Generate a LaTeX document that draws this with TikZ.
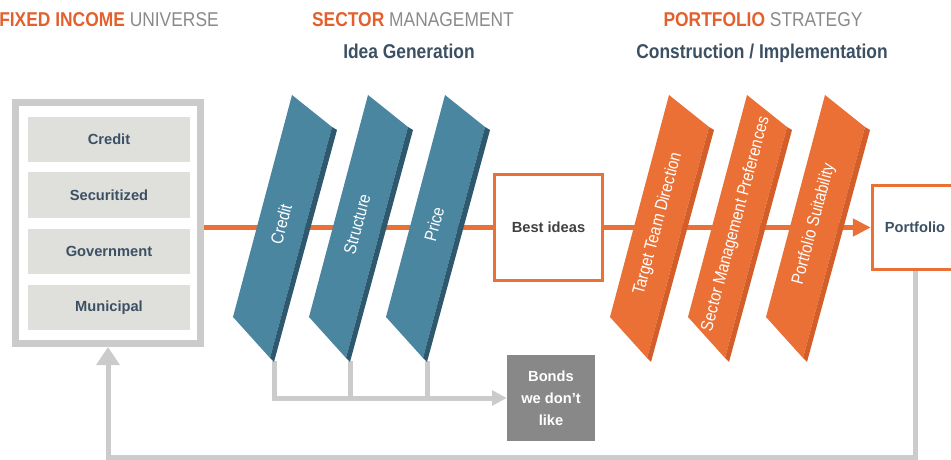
\documentclass[tikz,border=0pt]{standalone}
\usepackage{fontspec}
\setmainfont{Liberation Sans}
\newfontfamily\narrowfont[FakeStretch=0.87]{Liberation Sans}
\usetikzlibrary{arrows.meta}

\definecolor{fiOrange}{HTML}{EB7035}
\definecolor{fiOrangeDk}{HTML}{D35E29}
\definecolor{fiTitleOr}{HTML}{E3602D}
\definecolor{fiBlue}{HTML}{4B86A1}
\definecolor{fiBlueDk}{HTML}{2E586D}
\definecolor{fiSlate}{HTML}{3C5064}
\definecolor{fiInk}{HTML}{404040}
\definecolor{fiGrey}{HTML}{CBCBCB}
\definecolor{fiBoxGrey}{HTML}{DFE0DC}
\definecolor{fiDarkGrey}{HTML}{888888}
\definecolor{fiTitleGrey}{HTML}{8A8A8A}

\tikzset{
  titletext/.style={inner sep=0, anchor=base, font=\narrowfont\fontsize{15}{18}\selectfont},
  subtitle/.style={titletext, text=fiSlate, font=\narrowfont\bfseries\fontsize{15}{18}\selectfont},
  sectorbox/.style={fill=fiBoxGrey, inner sep=0, minimum width=121.5pt, minimum height=33.75pt,
    text=fiSlate, font=\bfseries\fontsize{11}{13}\selectfont},
  orangebox/.style={draw=fiOrange, line width=2.5pt, fill=white, inner sep=0,
    font=\bfseries\fontsize{11}{13}\selectfont},
  bladetext/.style={rotate=75, text=white, inner sep=0, font=\narrowfont\fontsize{13}{15}\selectfont},
  mainline/.style={draw=fiOrange, line width=3.75pt},
  greyline/.style={draw=fiGrey, line width=3.75pt},
}

\begin{document}
\begin{tikzpicture}[x=0.75pt,y=0.75pt,yscale=-1,xscale=1]
\useasboundingbox (0,0) rectangle (951,460);
\clip (0,0) rectangle (951,460);

% Text Node
\node[titletext, anchor=base west] (unititle) at (-1,27) {\textcolor{fiTitleOr}{\bfseries FIXED INCOME} \textcolor{fiTitleGrey}{UNIVERSE}};
% Text Node
\node[titletext] (sectitle) at (413,27) {\textcolor{fiTitleOr}{\bfseries SECTOR} \textcolor{fiTitleGrey}{MANAGEMENT}};
% Text Node
\node[subtitle] (ideagen) at (409,59) {Idea Generation};
% Text Node
\node[titletext] (porttitle) at (763,27) {\textcolor{fiTitleOr}{\bfseries PORTFOLIO} \textcolor{fiTitleGrey}{STRATEGY}};
% Text Node
\node[subtitle] (construct) at (762,59) {Construction / Implementation};

%Shape: Rectangle [id:univ] 
\node[draw=fiGrey, line width=5.25pt, minimum width=138.75pt, minimum height=180.75pt, inner sep=0] (univ) at (108,223) {};
\node[sectorbox] (ucredit) at (109,139.5) {Credit};
\node[sectorbox] (usecur) at (109,195) {Securitized};
\node[sectorbox] (ugov) at (109,251.5) {Government};
\node[sectorbox] (umuni) at (109,307.5) {Municipal};

%Shape: Rectangle [id:best] 
\node[orangebox, minimum width=81pt, minimum height=79.5pt, text=fiInk] (best) at (548.5,227.5) {Best ideas};
%Shape: Rectangle [id:portfolio] 
\node[orangebox, minimum width=63.75pt, minimum height=63pt, text=fiSlate] (portfolio) at (915,227.5) {Portfolio};
%Shape: Rectangle [id:bonds] 
\node[fill=fiDarkGrey, text=white, align=center, inner sep=0, minimum width=66pt, minimum height=64.5pt,
  font=\bfseries\fontsize{11}{16.5}\selectfont] (bonds) at (551,398) {Bonds\\we don’t\\like};

% blade feet
\coordinate (creditbot) at (274,361);
\coordinate (structurebot) at (350,361);
\coordinate (pricebot) at (427,361);
\coordinate (fbturn) at (108,457);

%Straight Lines [id:main] 
\draw[mainline] (univ.east |- best.west) -- (best.west);
\draw[mainline, -{Triangle[length=13.5pt,width=12.75pt]}] (best.east) -- (portfolio.west);

%Straight Lines [id:reject] 
\draw[greyline, -{Triangle[length=11pt,width=11pt]}] (creditbot) |- (bonds.west);
\draw[greyline] (structurebot) -- (structurebot |- bonds.west);
\draw[greyline] (pricebot) -- (pricebot |- bonds.west);

%Straight Lines [id:feedback] 
\draw[greyline, -{Triangle[length=13.5pt,width=17pt]}] (portfolio.south) |- (fbturn) -- (univ.south);

%Shape: Blades, sector management
\fill[fiBlue] (292,95) -- (332,127) -- (270,358) -- (233,317) -- cycle;
\fill[fiBlueDk] (332,127) -- (337,130) -- (274,362) -- (270,358) -- cycle;
\fill[fiBlue, shift={(76,0)}] (292,95) -- (332,127) -- (270,358) -- (233,317) -- cycle;
\fill[fiBlueDk, shift={(76,0)}] (332,127) -- (337,130) -- (274,362) -- (270,358) -- cycle;
\fill[fiBlue, shift={(153,0)}] (292,95) -- (332,127) -- (270,358) -- (233,317) -- cycle;
\fill[fiBlueDk, shift={(153,0)}] (332,127) -- (337,130) -- (274,362) -- (270,358) -- cycle;

%Shape: Blades, portfolio strategy
\fill[fiOrange, shift={(377,0)}] (292,95) -- (332,127) -- (270,358) -- (233,317) -- cycle;
\fill[fiOrangeDk, shift={(377,0)}] (332,127) -- (337,130) -- (274,362) -- (270,358) -- cycle;
\fill[fiOrange, shift={(455,0)}] (292,95) -- (332,127) -- (270,358) -- (233,317) -- cycle;
\fill[fiOrangeDk, shift={(455,0)}] (332,127) -- (337,130) -- (274,362) -- (270,358) -- cycle;
\fill[fiOrange, shift={(533,0)}] (292,95) -- (332,127) -- (270,358) -- (233,317) -- cycle;
\fill[fiOrangeDk, shift={(533,0)}] (332,127) -- (337,130) -- (274,362) -- (270,358) -- cycle;

% Text Node
\node[bladetext] (credit) at (281,224) {Credit};
\node[bladetext] (structure) at (357,224) {Structure};
\node[bladetext] (price) at (434,224) {Price};
\node[bladetext] (target) at (658,224) {Target Team Direction};
\node[bladetext] (sectorpref) at (736,224) {Sector Management Preferences};
\node[bladetext] (suitability) at (814,224) {Portfolio Suitability};

\end{tikzpicture}
\end{document}
